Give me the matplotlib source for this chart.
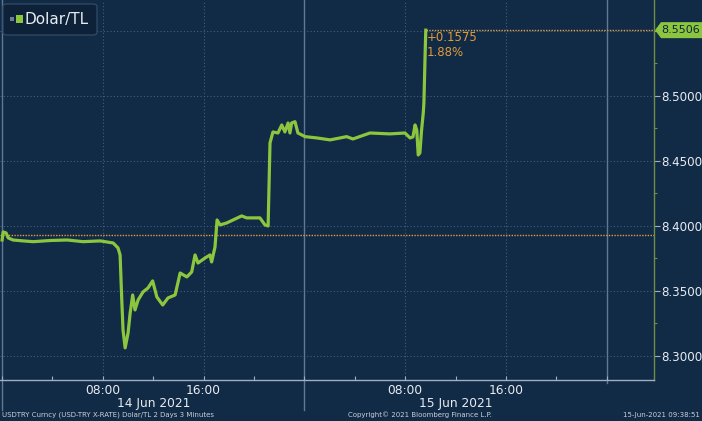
import matplotlib
matplotlib.use("Agg")
import matplotlib.pyplot as plt
import matplotlib.dates as mdates
import matplotlib.transforms as mtransforms
from matplotlib.patches import FancyBboxPatch, Rectangle, Polygon
import pandas as pd

# ---------------- data ----------------
times = [
    "2021-06-14 00:00", "2021-06-14 00:05", "2021-06-14 00:19", "2021-06-14 00:29",
    "2021-06-14 00:52", "2021-06-14 01:40", "2021-06-14 02:28", "2021-06-14 03:49",
    "2021-06-14 05:10", "2021-06-14 06:26", "2021-06-14 07:47", "2021-06-14 08:49",
    "2021-06-14 09:12", "2021-06-14 09:22", "2021-06-14 09:30", "2021-06-14 09:36",
    "2021-06-14 09:46", "2021-06-14 10:00", "2021-06-14 10:10", "2021-06-14 10:22",
    "2021-06-14 10:33", "2021-06-14 10:48", "2021-06-14 11:11", "2021-06-14 11:35",
    "2021-06-14 11:57", "2021-06-14 12:17", "2021-06-14 12:45", "2021-06-14 13:10",
    "2021-06-14 13:44", "2021-06-14 14:08", "2021-06-14 14:40", "2021-06-14 15:03",
    "2021-06-14 15:19", "2021-06-14 15:33", "2021-06-14 16:07", "2021-06-14 16:30",
    "2021-06-14 16:38", "2021-06-14 16:54", "2021-06-14 17:04", "2021-06-14 17:18",
    "2021-06-14 17:50", "2021-06-14 18:20", "2021-06-14 19:01", "2021-06-14 19:25",
    "2021-06-14 20:28", "2021-06-14 20:52", "2021-06-14 21:07", "2021-06-14 21:16",
    "2021-06-14 21:30", "2021-06-14 21:54", "2021-06-14 22:12", "2021-06-14 22:27",
    "2021-06-14 22:42", "2021-06-14 22:51", "2021-06-14 22:59", "2021-06-14 23:15",
    "2021-06-14 23:29", "2021-06-15 00:03", "2021-06-15 00:59", "2021-06-15 02:02",
    "2021-06-15 02:50", "2021-06-15 03:21", "2021-06-15 03:51", "2021-06-15 05:12",
    "2021-06-15 06:47", "2021-06-15 07:59", "2021-06-15 08:23", "2021-06-15 08:37",
    "2021-06-15 08:47", "2021-06-15 08:55", "2021-06-15 09:02", "2021-06-15 09:10",
    "2021-06-15 09:18", "2021-06-15 09:26", "2021-06-15 09:29", "2021-06-15 09:35",
    "2021-06-15 09:38",
]
values = [
    8.3892, 8.3954, 8.3946, 8.3908,
    8.3892, 8.3885, 8.3879, 8.3888,
    8.3892, 8.3879, 8.3885, 8.3869,
    8.3831, 8.3777, 8.3431, 8.3200,
    8.3062, 8.3177, 8.3331, 8.3469,
    8.3354, 8.3431, 8.3492, 8.3523,
    8.3577, 8.3454, 8.3392, 8.3446,
    8.3469, 8.3638, 8.3608, 8.3646,
    8.3777, 8.3715, 8.3754, 8.3777,
    8.3723, 8.3838, 8.4046, 8.4008,
    8.4023, 8.4046, 8.4077, 8.4062,
    8.4062, 8.4008, 8.4000, 8.4638,
    8.4723, 8.4715, 8.4777, 8.4723,
    8.4792, 8.4715, 8.4792, 8.4802,
    8.4715, 8.4687, 8.4677, 8.4662,
    8.4677, 8.4687, 8.4669, 8.4715,
    8.4708, 8.4715, 8.4677, 8.4685,
    8.4777, 8.4738, 8.4546, 8.4562,
    8.4738, 8.4869, 8.4946, 8.5331,
    8.5506,
]
prev_close = 8.3931
last_price = 8.5506
change_label = "+0.1575"
pct_label = "1.88%"
series_name = "Dolar/TL"
y_ticks = [8.30, 8.35, 8.40, 8.45, 8.50, 8.55]
day_labels = ["14 Jun 2021", "15 Jun 2021"]
day_centers = ["2021-06-14 12:00", "2021-06-15 12:00"]
day_starts = ["2021-06-14 00:00", "2021-06-15 00:00", "2021-06-16 00:00"]
footer_left = "USDTRY Curncy (USD-TRY X-RATE) Dolar/TL 2 Days 3 Minutes"
footer_mid = "Copyright\u00a9 2021 Bloomberg Finance L.P."
footer_right = "15-Jun-2021 09:38:51"

# ---------------- style ----------------
BG = "#112a46"
GREEN = "#8cc63e"
ORANGE = "#e39b3c"
GRID = "#41607f"
TXT = "#e8ecf0"

t = pd.to_datetime(times)
W, H = 702, 421
fig = plt.figure(figsize=(W / 100, H / 100), dpi=100, facecolor=BG)
ax = fig.add_axes([0, 41 / H, 654 / W, 380 / H], facecolor=BG)

ax.set_xlim(pd.Timestamp("2021-06-13 23:50"), pd.Timestamp("2021-06-16 03:45"))
ax.set_ylim(8.2815, 8.5738)

# grid
for yv in y_ticks:
    ax.axhline(yv, color=GRID, lw=0.8, ls=(0, (1, 2)), zorder=1)
for d in ["2021-06-14 08:00", "2021-06-14 16:00", "2021-06-15 08:00", "2021-06-15 16:00"]:
    ax.axvline(pd.Timestamp(d), color=GRID, lw=0.8, ls=(0, (1, 2)), zorder=1)

trans = mtransforms.blended_transform_factory(ax.transData, ax.transAxes)
for i, d in enumerate(day_starts):
    x = mdates.date2num(pd.Timestamp(d))
    ymin = -30 / 380 if i < 2 else -3 / 380
    ax.plot([x, x], [ymin, 1], transform=trans, color="#5f7894", lw=1.0,
            clip_on=False, zorder=1)

# reference lines
ax.axhline(prev_close, color=ORANGE, lw=1.0, ls=(0, (1, 1)), zorder=2)
ax.plot([t[-1], pd.Timestamp("2021-06-16 03:45")], [last_price, last_price],
        color=ORANGE, lw=1.0, ls=(0, (1, 1)), zorder=2)

# series
ax.plot(t, values, color=GREEN, lw=2.3, solid_joinstyle="round", zorder=5)

# annotation
ax.annotate(change_label, (t[-1], last_price), xytext=(1, -7), textcoords="offset pixels",
            color=ORANGE, fontsize=8.5, ha="left", va="center", zorder=6)
ax.annotate(pct_label, (t[-1], last_price), xytext=(1, -22), textcoords="offset pixels",
            color=ORANGE, fontsize=8.5, ha="left", va="center", zorder=6)

# spines
for s in ["top", "left"]:
    ax.spines[s].set_visible(False)
ax.spines["bottom"].set_color("#9fb0c2")
ax.spines["bottom"].set_linewidth(1.0)
ax.spines["right"].set_color("#6d8f45")
ax.spines["right"].set_linewidth(1.0)

# y axis
ax.yaxis.tick_right()
ax.set_yticks(y_ticks)
ax.set_yticklabels([f"{v:.4f}" if v < 8.54 else "" for v in y_ticks])
ax.set_yticks([v + 0.025 for v in y_ticks[:-1]], minor=True)
ax.tick_params(axis="y", which="major", colors="#9fb0c2", labelcolor=TXT,
               length=4, width=0.8, pad=1, labelsize=8.6)
ax.tick_params(axis="y", which="minor", colors="#6d8f45", length=2, width=0.8)

# x axis
ax.xaxis.set_major_locator(mdates.HourLocator(byhour=[8, 16]))
ax.xaxis.set_major_formatter(mdates.DateFormatter("%H:%M"))
ax.xaxis.set_minor_locator(mdates.HourLocator(byhour=[0, 4, 12, 20]))
ax.tick_params(axis="x", which="major", colors="#9fb0c2", labelcolor=TXT,
               direction="in", length=3, width=0.8, pad=3, labelsize=8.8)
ax.tick_params(axis="x", which="minor", colors="#9fb0c2", direction="in",
               length=3, width=0.8)

for lab, c in zip(day_labels, day_centers):
    ax.text(mdates.date2num(pd.Timestamp(c)), -23 / 380, lab, transform=trans,
            ha="center", va="center", color=TXT, fontsize=8.8, clip_on=False)

# last price tag (arrow-shaped label on the right axis)
ypix = ax.transData.transform((0, last_price))[1]
x0 = ax.transAxes.transform((1.0, 0))[0]
tag = [(x0 + 1, ypix), (x0 + 7, ypix + 8), (W, ypix + 8), (W, ypix - 8), (x0 + 7, ypix - 8)]
fig.patches.append(Polygon(tag, closed=True, transform=None, fc=GREEN, ec="none", zorder=30))
fig.text((x0 + 6 + W) / 2 / W, ypix / H, f"{last_price:.4f}", ha="center", va="center",
         fontsize=8.0, color="#10243c", zorder=31)

# legend box
fig.patches.append(FancyBboxPatch((3 / W, 1 - 35 / H), 94 / W, 31 / H,
                                  boxstyle="round,pad=0,rounding_size=0.006",
                                  transform=fig.transFigure, fc="#0d2239",
                                  ec="#2f4762", lw=1.0, zorder=20))
fig.patches.append(Rectangle((10 / W, 1 - 21 / H), 4 / W, 4 / H,
                             transform=fig.transFigure, fc="#6e7e8e", ec="none", zorder=21))
fig.patches.append(Rectangle((16 / W, 1 - 23 / H), 7 / W, 8 / H,
                             transform=fig.transFigure, fc=GREEN, ec="none", zorder=21))
fig.text(25 / W, 1 - 19.5 / H, series_name, color=TXT, fontsize=11, ha="left",
         va="center", zorder=22)

# footer
fig.text(2 / W, 6 / H, footer_left, color="#c8d0da", fontsize=5.0, ha="left", va="center")
fig.text(420 / W, 6 / H, footer_mid, color="#c8d0da", fontsize=5.0, ha="center", va="center")
fig.text(700 / W, 6 / H, footer_right, color="#c8d0da", fontsize=5.0, ha="right", va="center")

fig.savefig("out.png", dpi=100, facecolor=BG)
